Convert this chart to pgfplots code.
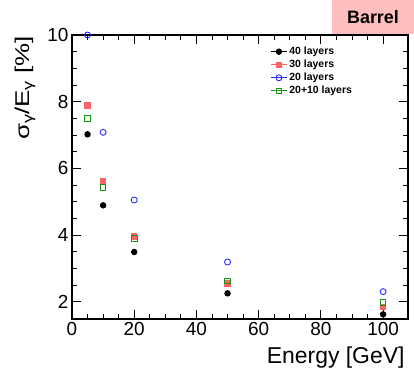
\documentclass[border=0pt]{standalone}
\usepackage{fontspec}
\setmainfont{Liberation Sans}
\usepackage{graphicx}
\usepackage{pgfplots}
\pgfplotsset{compat=1.18}
\definecolor{c30}{RGB}{250,100,100}
\definecolor{c20}{RGB}{40,40,255}
\definecolor{c2010}{RGB}{20,150,20}
\definecolor{barrel}{RGB}{255,190,190}
\newcommand{\subg}{\raisebox{-0.3ex}{\fontsize{14}{14}\selectfont γ}}
\begin{document}
\begin{tikzpicture}
\begin{axis}[
  scale only axis,
  width=336bp, height=284bp,
  xmin=0, xmax=108, ymin=1.48, ymax=10,
  xtick={0,20,...,100}, ytick={2,4,...,10},
  minor x tick num=3, minor y tick num=3,
  tick align=inside,
  major tick length=9bp, minor tick length=5bp,
  axis line style={line width=1.1pt},
  every tick/.style={line width=1.0pt, black},
  /pgf/number format/assume math mode=true,
  tick label style={font=\fontsize{19}{22}\selectfont},
  xlabel={Energy [GeV]},
  xlabel style={font=\fontsize{23}{26}\selectfont, at={(axis description cs:1,0)}, anchor=base east, yshift=-44bp},
  ylabel={\scalebox{1.3}[1]{σ\subg/E\subg\ [\%]}},
  ylabel style={font=\fontsize{20}{24}\selectfont, at={(axis description cs:0,1)}, anchor=east, xshift=2bp, yshift=47bp},
  clip=false,
  legend cell align=left,
  legend style={draw=none, fill=none, at={(axis description cs:0.59,0.965)}, anchor=north west,
    font=\bfseries\fontsize{10.5}{12}\selectfont, row sep=0bp, inner sep=0pt},
  legend image code/.code={\draw[#1] (0bp,0bp) -- (16bp,0bp); \draw[#1] plot coordinates {(8bp,0bp)};},
]
\coordinate (O) at (rel axis cs:0,0);
\addplot[only marks, mark=*, mark size=2.7, black, line width=1pt] coordinates {
(5,7.02) (10,4.89) (20,3.49) (50,2.25) (100,1.62)};
\addlegendentry{40 layers}
\addplot[only marks, mark=square*, mark size=2.7, c30, line width=1pt] coordinates {
(5,7.89) (10,5.61) (20,3.96) (50,2.54) (100,1.84)};
\addlegendentry{30 layers}
\addplot[only marks, mark=o, mark size=3, c20, line width=0.9pt] coordinates {
(5,10.0) (10,7.08) (20,5.05) (50,3.19) (100,2.30)};
\addlegendentry{20 layers}
\addplot[only marks, mark=square, mark size=2.8, c2010, line width=0.9pt] coordinates {
(5,7.49) (10,5.42) (20,3.90) (50,2.62) (100,1.97)};
\addlegendentry{20+10 layers}
\end{axis}
\fill[barrel] ([shift={(260bp,285bp)}]O) rectangle ([shift={(342bp,319bp)}]O);
\node[font=\bfseries\fontsize{18}{20}\selectfont, anchor=center] at ([shift={(301bp,302bp)}]O) {Barrel};
\pgfresetboundingbox
\path ([shift={(-72bp,-54bp)}]O) rectangle ([shift={(342bp,319bp)}]O);
\end{tikzpicture}
\end{document}
